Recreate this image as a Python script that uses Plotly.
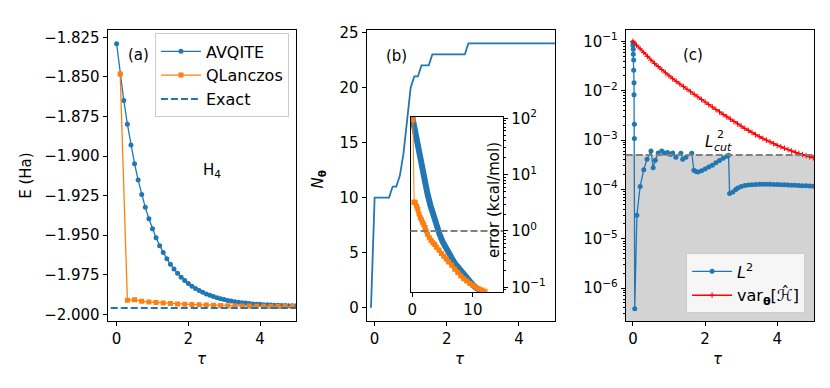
import plotly.graph_objects as go

BLUE = '#1f77b4'
ORANGE = '#ff7f0e'
FONT = 'DejaVu Sans'

# ---- panel (a): energy vs imaginary time
tau = [0.0, 0.1, 0.2, 0.3, 0.4, 0.5, 0.6, 0.7, 0.8, 0.9,
       1.0, 1.1, 1.2, 1.3, 1.4, 1.5, 1.6, 1.7, 1.8, 1.9,
       2.0, 2.1, 2.2, 2.3, 2.4, 2.5, 2.6, 2.7, 2.8, 2.9,
       3.0, 3.1, 3.2, 3.3, 3.4, 3.5, 3.6, 3.7, 3.8, 3.9,
       4.0, 4.1, 4.2, 4.3, 4.4, 4.5, 4.6, 4.7, 4.8, 4.9, 5.0]
e_avqite = [-1.8290, -1.8481, -1.8649, -1.8799, -1.8931, -1.9048, -1.9152, -1.9243, -1.9324, -1.9396,
            -1.9460, -1.9516, -1.9566, -1.9610, -1.9649, -1.9684, -1.9714, -1.9741, -1.9765, -1.9786,
            -1.9805, -1.9822, -1.9837, -1.9850, -1.9861, -1.9871, -1.9880, -1.9888, -1.9895, -1.9902,
            -1.9907, -1.9912, -1.9916, -1.9920, -1.9924, -1.9927, -1.9929, -1.9932, -1.9934, -1.9936,
            -1.9937, -1.9939, -1.9940, -1.9941, -1.9942, -1.9943, -1.9944, -1.9944, -1.9945, -1.9945, -1.9946]
tau_ql = [0.1, 0.3, 0.5, 0.7, 0.9, 1.1, 1.3, 1.5, 1.7, 1.9, 2.1, 2.3, 2.5,
          2.7, 2.9, 3.1, 3.3, 3.5, 3.7, 3.9, 4.1, 4.3, 4.5, 4.7, 4.9]
e_qlanczos = [-1.8481, -1.9911, -1.9908, -1.9918, -1.9922, -1.9925, -1.9928, -1.9931, -1.9934,
              -1.9936, -1.9938, -1.9940, -1.9941, -1.9943, -1.9944, -1.9945, -1.9946, -1.9947,
              -1.9948, -1.9949, -1.9949, -1.9950, -1.9950, -1.9951, -1.9951]
e_exact = -1.9960

# ---- panel (b): number of parameters
tau_n = [-0.1, 0.0, 0.4, 0.5, 0.6, 0.7, 0.8, 0.9, 1.0, 1.1, 1.2, 1.3, 1.5, 1.6, 2.5, 2.6, 5.0]
n_theta = [0, 10, 10, 11, 11, 12, 14, 17, 20, 21, 21, 22, 22, 23, 23, 24, 24]

# inset: error in kcal/mol
tau_err_a = [0.0, 0.5, 1.0, 1.5, 2.0, 2.5, 3.0, 3.5, 4.0, 4.5, 5.0, 5.5, 6.0,
             6.5, 7.0, 7.5, 8.0, 8.5, 9.0, 9.5, 10.0, 10.5, 11.0, 11.5, 12.0]
err_avqite = [105, 53.7, 27.5, 14.5, 7.94, 4.57, 2.82, 1.82, 1.23, 0.871, 0.646, 0.501, 0.398,
              0.331, 0.269, 0.229, 0.200, 0.166, 0.141, 0.123, 0.110, 0.098, 0.091, 0.085, 0.079]
tau_err_q = [0.1, 0.3, 0.5, 0.7, 0.9, 1.1, 1.3, 1.5, 1.7, 1.9, 2.1, 2.3, 2.5, 2.8, 3.1, 3.4, 3.7,
             4.0, 4.4, 4.8, 5.2, 5.6, 6.0, 6.5, 7.0, 7.5, 8.0, 8.5, 9.0, 9.5, 10.0, 10.5, 11.0, 11.5, 12.0]
err_qlanczos = [93.3, 3.24, 3.16, 2.75, 2.45, 2.00, 1.74, 1.58, 1.41, 1.29, 1.15, 1.00, 0.871,
                0.759, 0.676, 0.617, 0.575, 0.513, 0.457, 0.398, 0.355, 0.316, 0.282, 0.245,
                0.209, 0.182, 0.158, 0.141, 0.129, 0.117, 0.107, 0.100, 0.093, 0.089, 0.085]
err_cut = 1.0

# ---- panel (c): McLachlan distance and energy variance
tau_l2 = [0.0, 0.0, 0.01, 0.01, 0.02, 0.02, 0.03, 0.03, 0.04, 0.04,
          0.05, 0.11, 0.2, 0.3, 0.39, 0.5, 0.56, 0.62, 0.7, 0.8,
          0.87, 0.96, 1.04, 1.1, 1.19, 1.33, 1.38, 1.47, 1.63, 1.69,
          1.75, 1.8, 1.9, 2.0, 2.1, 2.2, 2.3, 2.4, 2.5, 2.6,
          2.65, 2.68, 2.77, 2.85, 2.91, 3.0, 3.1, 3.2, 3.3, 3.4,
          3.5, 3.6, 3.7, 3.8, 3.9, 4.0, 4.1, 4.2, 4.3, 4.4,
          4.5, 4.6, 4.7, 4.8, 4.9, 5.0]
l2 = [9.5e-2, 8.3e-2, 6.9e-2, 5.5e-2, 4.2e-2, 2.6e-2, 1.45e-2, 8.3e-3, 2.1e-3, 1.07e-3,
      3.8e-7, 3.0e-5, 1.15e-4, 2.5e-4, 4.1e-4, 6.0e-4, 2.75e-4, 3.9e-4, 5.5e-4, 6.0e-4,
      5.5e-4, 5.6e-4, 5.1e-4, 5.5e-4, 4.5e-4, 5.4e-4, 4.1e-4, 4.5e-4, 5.4e-4, 2.45e-4,
      2.3e-4, 2.25e-4, 2.4e-4, 2.6e-4, 2.85e-4, 3.1e-4, 3.45e-4, 3.85e-4, 4.3e-4, 4.7e-4,
      4.9e-4, 8.3e-5, 8.9e-5, 1.0e-4, 1.07e-4, 1.15e-4, 1.2e-4, 1.23e-4, 1.25e-4, 1.26e-4,
      1.27e-4, 1.27e-4, 1.27e-4, 1.27e-4, 1.26e-4, 1.26e-4, 1.25e-4, 1.24e-4, 1.23e-4, 1.22e-4,
      1.21e-4, 1.2e-4, 1.19e-4, 1.18e-4, 1.17e-4, 1.16e-4]
var_h = [1.00e-1, 8.39e-2, 7.05e-2, 5.92e-2, 4.97e-2, 4.17e-2, 3.58e-2, 3.09e-2, 2.67e-2, 2.30e-2,
         2.00e-2, 1.75e-2, 1.55e-2, 1.37e-2, 1.21e-2, 1.07e-2, 9.51e-3, 8.43e-3, 7.48e-3, 6.64e-3,
         5.89e-3, 5.25e-3, 4.68e-3, 4.17e-3, 3.72e-3, 3.31e-3, 2.96e-3, 2.65e-3, 2.38e-3, 2.13e-3,
         1.91e-3, 1.73e-3, 1.57e-3, 1.42e-3, 1.29e-3, 1.17e-3, 1.08e-3, 9.95e-4, 9.16e-4, 8.43e-4,
         7.76e-4, 7.28e-4, 6.82e-4, 6.40e-4, 6.00e-4, 5.62e-4, 5.35e-4, 5.08e-4, 4.83e-4, 4.59e-4, 4.37e-4]
l2_cut = 5e-4

log_ticks = [1e-6, 1e-5, 1e-4, 1e-3, 1e-2, 1e-1]
log_ticktext = ['10<sup>−6</sup>', '10<sup>−5</sup>', '10<sup>−4</sup>',
                '10<sup>−3</sup>', '10<sup>−2</sup>', '10<sup>−1</sup>']
inset_ticks = [0.1, 1, 10, 100]
inset_ticktext = ['10<sup>−1</sup>', '10<sup>0</sup>', '10<sup>1</sup>', '10<sup>2</sup>']

# the html page has an 8px body margin, so the figure sits at (8, 8)
OFF = 8
W, H = 830 - 2 * OFF, 388 - 2 * OFF


def px(x):
    return (x - OFF) / W


def py(y):
    return 1 - (y - OFF) / H


def minor_vals(lo, hi):
    return [m * 10.0 ** e for e in range(lo, hi) for m in range(2, 10)]


def axis(**kw):
    d = dict(showline=True, mirror=True, linecolor='black', linewidth=1,
             ticks='outside', ticklen=4, tickwidth=1, tickcolor='black',
             showgrid=False, zeroline=False,
             tickfont=dict(family=FONT, size=15, color='black'))
    d.update(kw)
    return d


fig = go.Figure()

# (a)
fig.add_trace(go.Scatter(x=tau, y=e_avqite, mode='lines+markers', name='AVQITE',
                         line=dict(color=BLUE, width=1.3), marker=dict(size=5, color=BLUE),
                         xaxis='x', yaxis='y'))
fig.add_trace(go.Scatter(x=tau_ql, y=e_qlanczos, mode='lines+markers', name='QLanczos',
                         line=dict(color=ORANGE, width=1.3),
                         marker=dict(size=5, symbol='square', color=ORANGE),
                         xaxis='x', yaxis='y'))
fig.add_trace(go.Scatter(x=[-1, 6], y=[e_exact, e_exact], mode='lines', name='Exact',
                         line=dict(color=BLUE, width=2, dash='7px,3px'),
                         xaxis='x', yaxis='y'))

# (b)
fig.add_trace(go.Scatter(x=tau_n, y=n_theta, mode='lines', showlegend=False,
                         line=dict(color=BLUE, width=1.8), xaxis='x2', yaxis='y2'))

# inset: dense markers in the original look like thick bands
fig.add_trace(go.Scatter(x=tau_err_a, y=err_avqite, mode='lines', showlegend=False,
                         line=dict(color=BLUE, width=6), xaxis='x4', yaxis='y4'))
fig.add_trace(go.Scatter(x=tau_err_q[:2], y=err_qlanczos[:2], mode='lines+markers',
                         showlegend=False, line=dict(color=ORANGE, width=1),
                         marker=dict(size=5, symbol='square', color=ORANGE),
                         xaxis='x4', yaxis='y4'))
fig.add_trace(go.Scatter(x=tau_err_q[1:], y=err_qlanczos[1:], mode='lines+markers',
                         showlegend=False, line=dict(color=ORANGE, width=4),
                         marker=dict(size=5, symbol='square', color=ORANGE),
                         xaxis='x4', yaxis='y4'))

# (c)
fig.add_trace(go.Scatter(x=tau_l2, y=l2, mode='lines+markers', name='<i>L</i><sup>2</sup>',
                         line=dict(color=BLUE, width=1.3), marker=dict(size=5, color=BLUE),
                         xaxis='x3', yaxis='y3', legend='legend2'))
fig.add_trace(go.Scatter(x=tau, y=var_h, mode='lines+markers',
                         name='var<sub><b>θ</b></sub>[ℋ̂]',
                         line=dict(color='red', width=1.5),
                         marker=dict(size=4, symbol='cross-thin', color='red',
                                     line=dict(color='red', width=1)),
                         xaxis='x3', yaxis='y3', legend='legend2'))

ytop, ybot = py(20), py(323)

fig.update_layout(
    width=W, height=H, margin=dict(l=0, r=0, t=0, b=0),
    paper_bgcolor='white', plot_bgcolor='white',
    font=dict(family=FONT, size=15, color='black'),
    xaxis=axis(domain=[px(105), px(294)], range=[-0.25, 5.0], anchor='y',
               tickvals=[0, 2, 4]),
    yaxis=axis(domain=[ybot, ytop], range=[-2.0043, -1.8201], anchor='x',
               dtick=0.025, tick0=-2.0, tickformat='.3f'),
    xaxis2=axis(domain=[px(365), px(554)], range=[-0.22, 5.0], anchor='y2',
                tickvals=[0, 2, 4]),
    yaxis2=axis(domain=[ybot, ytop], range=[-1.22, 25.26], anchor='x2',
                tickvals=[0, 5, 10, 15, 20, 25]),
    xaxis3=axis(domain=[px(625), px(814)], range=[-0.2, 5.02], anchor='y3',
                tickvals=[0, 2, 4]),
    yaxis3=axis(domain=[ybot, ytop], type='log', range=[-6.67, -0.76], anchor='x3',
                tickmode='array', tickvals=log_ticks, ticktext=log_ticktext,
                minor=dict(tickmode='array', tickvals=minor_vals(-7, 0), ticks='outside',
                           ticklen=2, tickwidth=0.8, tickcolor='black', showgrid=False)),
    xaxis4=axis(domain=[px(409), px(502)], range=[-0.3, 15.0], anchor='y4',
                tickvals=[0, 10]),
    yaxis4=axis(domain=[py(292.7), py(111)], type='log', range=[-1.084, 2.022],
                anchor='x4', side='right',
                tickmode='array', tickvals=inset_ticks, ticktext=inset_ticktext,
                minor=dict(tickmode='array', tickvals=minor_vals(-2, 2), ticks='outside',
                           ticklen=2, tickwidth=0.8, tickcolor='black', showgrid=False)),
    legend=dict(x=px(287), y=py(24), xanchor='right', yanchor='top',
                bgcolor='rgba(255,255,255,0.8)', bordercolor='#cccccc', borderwidth=1,
                itemwidth=40, font=dict(size=16)),
    legend2=dict(x=px(805), y=py(315), xanchor='right', yanchor='bottom',
                 bgcolor='rgba(255,255,255,0.8)', bordercolor='#cccccc', borderwidth=1,
                 itemwidth=40, font=dict(size=16)),
)

# shaded "below threshold" regions and dashed thresholds
fig.add_shape(type='rect', xref='x4 domain', yref='y4', x0=0, x1=1, y0=1e-3, y1=err_cut,
              fillcolor='lightgray', line=dict(width=0), layer='below')
fig.add_shape(type='line', xref='x4 domain', yref='y4', x0=0, x1=1, y0=err_cut, y1=err_cut,
              line=dict(color='gray', width=2, dash='7px,3px'))
fig.add_shape(type='rect', xref='x3 domain', yref='y3', x0=0, x1=1, y0=1e-9, y1=l2_cut,
              fillcolor='lightgray', line=dict(width=0), layer='below')
fig.add_shape(type='line', xref='x3 domain', yref='y3', x0=0, x1=1, y0=l2_cut, y1=l2_cut,
              line=dict(color='gray', width=2, dash='7px,3px'))

ann = [
    dict(text='(a)', xref='x', yref='y', x=0.61, y=-1.8364),
    dict(text='H<sub>4</sub>', xref='x', yref='y', x=2.67, y=-1.909),
    dict(text='(b)', xref='x2', yref='y2', x=0.61, y=22.9),
    dict(text='(c)', xref='x3', yref='y3', x=1.66, y=-1.27),
    dict(text='<i>L</i>', xref='x3', yref='y3', x=2.11, y=-3.033),
    dict(text='2', xref='x3', yref='y3', x=2.42, y=-2.88, font=dict(size=11)),
    dict(text='<i>cut</i>', xref='x3', yref='y3', x=2.50, y=-3.16, font=dict(size=11)),
    dict(text='E (Ha)', xref='paper', yref='paper', x=px(23), y=py(172), textangle=-90),
    dict(text='<i>N</i><sub><b>θ</b></sub>', xref='paper', yref='paper', x=px(317),
         y=py(176), textangle=-90),
    dict(text='error (kcal/mol)', xref='paper', yref='paper', x=px(493), y=py(197),
         textangle=-90),
    dict(text='<i>τ</i>', xref='paper', yref='paper', x=px(200), y=py(362)),
    dict(text='<i>τ</i>', xref='paper', yref='paper', x=px(459), y=py(362)),
    dict(text='<i>τ</i>', xref='paper', yref='paper', x=px(718), y=py(362)),
]
for a in ann:
    a.setdefault('showarrow', False)
    a.setdefault('font', dict(size=15))
    a['font'] = dict(family=FONT, color='black', **a['font'])
    a['xanchor'] = 'center'
    a['yanchor'] = 'middle'
fig.update_layout(annotations=ann)

fig.write_html("out.html", config={'displayModeBar': False})
